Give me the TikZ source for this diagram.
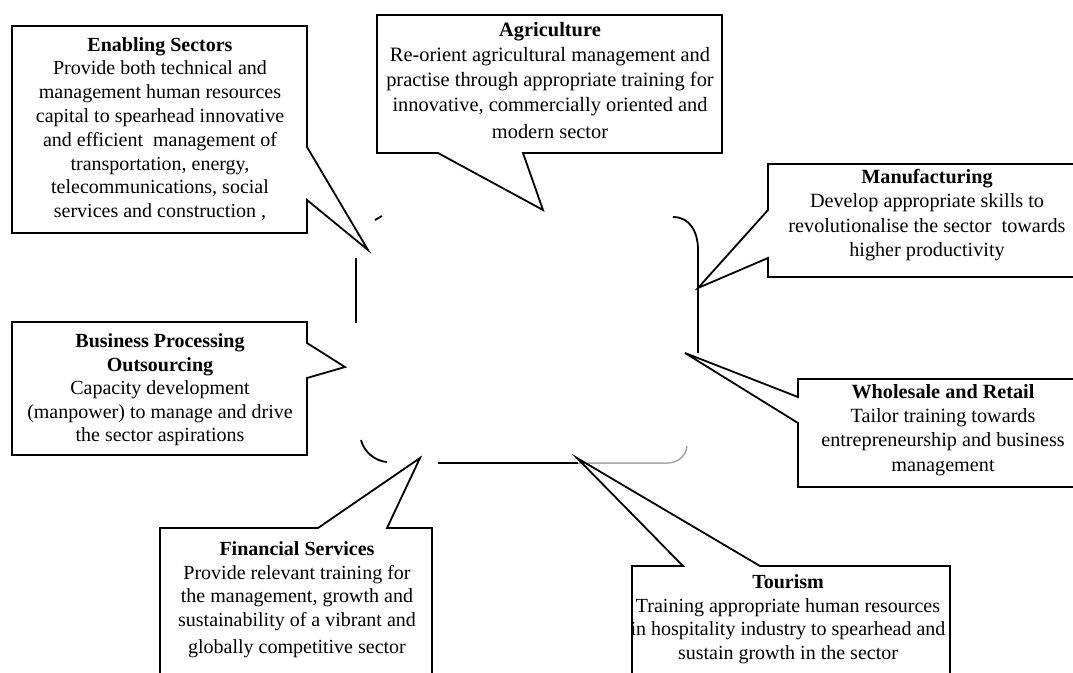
\documentclass[tikz,border=0pt]{standalone}
\usepackage{fontspec}
\setmainfont{Liberation Serif}
\begin{document}
\begin{tikzpicture}[x=1pt,y=-1pt,
  box/.style={draw=black,line width=1.8pt,line join=miter},
  txt/.style={align=center,inner sep=0pt,font=\fontsize{20}{23.8}\selectfont},
  ctr/.style={draw=black,line width=1.8pt},
  faded/.style={draw=black!35,line width=1.5pt}]
\useasboundingbox (0,0) rectangle (1073,672);

% visible pieces of the central rounded box
\coordinate (c1) at (375,220);
\coordinate (c2) at (382,216);
\draw[ctr] (c1) -- (c2);
\draw[ctr] (356,258) -- (356,323);
\draw[ctr] (673,217) .. controls (690,217) and (698,232) .. (698,250) -- (698,353);
\draw[ctr] (361,440) .. controls (364,452) and (375,461) .. (387,462);
\draw[ctr] (438,463) -- (578,463);
\draw[faded] (578,463) -- (667,463) .. controls (678,463) and (686,456) .. (687,446);

% Enabling Sectors
\draw[box] (12,26) -- (307,26) -- (307,147) -- (368,250) -- (307,200) -- (307,233) -- (12,233) -- cycle;
\node[txt] (en) at (160,129) {\textbf{Enabling Sectors}\\Provide both technical and\\management human resources\\capital to spearhead innovative\\and efficient\ \ management of\\transportation, energy,\\telecommunications, social\\services and construction ,};

% Agriculture
\draw[box] (377,15) -- (722,15) -- (722,153) -- (523,153) -- (543,210) -- (438,153) -- (377,153) -- cycle;
\node[txt,font=\fontsize{20.4}{25}\selectfont] (ag) at (550,81) {\textbf{Agriculture}\\Re-orient agricultural management and\\practise through appropriate training for\\innovative, commercially oriented and\\[2pt]modern sector};

% Manufacturing
\draw[box] (768,164) -- (1085,164) -- (1085,277) -- (768,277) -- (768,258) -- (698,288) -- (768,210) -- cycle;
\node[txt,font=\fontsize{20.2}{24.5}\selectfont] (ma) at (927,215) {\textbf{Manufacturing}\\Develop appropriate skills to\\revolutionalise the sector\ \ towards\\higher productivity};

% Wholesale and Retail
\draw[box] (798,379) -- (1085,379) -- (1085,487) -- (798,487) -- (798,423) -- (685,353) -- (798,397) -- cycle;
\node[txt,font=\fontsize{20.2}{24.3}\selectfont] (wr) at (943,430) {\textbf{Wholesale and Retail}\\Tailor training towards\\entrepreneurship and business\\management};

% Business Processing Outsourcing
\draw[box] (12,322) -- (307,322) -- (307,343) -- (345,367) -- (307,378) -- (307,455) -- (12,455) -- cycle;
\node[txt,font=\fontsize{20}{23.5}\selectfont] (bp) at (160,390) {\textbf{Business Processing}\\\textbf{Outsourcing}\\Capacity development\\(manpower) to manage and drive\\the sector aspirations};

% Financial Services
\draw[box] (160,528) -- (318,528) -- (420,458) -- (387,528) -- (432,528) -- (432,685) -- (160,685) -- cycle;
\node[txt,font=\fontsize{20}{23.5}\selectfont] (fs) at (297,600) {\textbf{Financial Services}\\Provide relevant training for\\the management, growth and\\sustainability of a vibrant and\\[4pt]globally competitive sector};

% Tourism
\draw[box] (632,566) -- (683,566) -- (577,458) -- (760,566) -- (950,566) -- (950,685) -- (632,685) -- cycle;
\node[txt,font=\fontsize{20}{23.5}\selectfont] (to) at (788,619) {\textbf{Tourism}\\Training appropriate human resources\\in hospitality industry to spearhead and\\sustain growth in the sector};
\end{tikzpicture}
\end{document}
